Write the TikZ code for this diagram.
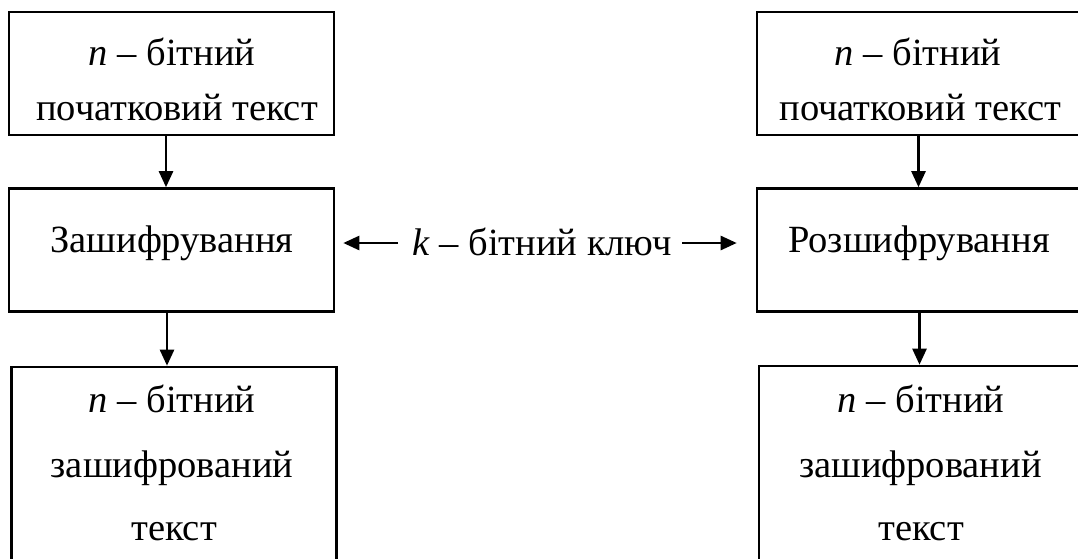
\documentclass[tikz,border=0pt]{standalone}
\usepackage{fontspec}
\setmainfont{Liberation Serif}
\usetikzlibrary{arrows.meta}
\begin{document}
\begin{tikzpicture}[x=1pt,y=-1pt,
  blk/.style={draw, line width=2.6pt, rectangle, inner sep=0pt,
              minimum width=325pt, minimum height=123pt},
  txt/.style={anchor=base, inner sep=0pt, font=\fontsize{38.5}{46}\selectfont},
  arr/.style={line width=2.5pt, -{Triangle[length=16pt,width=14pt]}}]
\useasboundingbox (0,0) rectangle (1078,558);
\clip (0,0) rectangle (1078,558);

% encryption side
\node[blk] (tl) at (171.5,73.5) {};
\node[blk] (ml) at (171.5,250) {};
\node[blk, minimum height=260pt] (bl) at (174,497) {};
% decryption side
\node[blk] (tr) at (919.5,73.5) {};
\node[blk] (mr) at (919.5,250) {};
\node[blk, minimum height=260pt] (br) at (921.5,496) {};

% labels
\node[txt] (tl1) at (172,65)  {\textit{n} – бітний};
\node[txt] (tl2) at (177,120) {початковий текст};
\node[txt] (ml1) at (172,252) {Зашифрування};
\node[txt] (bl1) at (172,412) {\textit{n} – бітний};
\node[txt] (bl2) at (172,477) {зашифрований};
\node[txt] (bl3) at (174,540) {текст};

\node[txt] (tr1) at (918,65)  {\textit{n} – бітний};
\node[txt] (tr2) at (920.5,120) {початковий текст};
\node[txt] (mr1) at (919,252) {Розшифрування};
\node[txt] (br1) at (921,412) {\textit{n} – бітний};
\node[txt] (br2) at (920.5,477) {зашифрований};
\node[txt] (br3) at (921,540) {текст};

\node[txt] (key) at (542,255) {\textit{k} – бітний ключ};

% flow arrows
\draw[arr] ([xshift=-5.5pt]tl.south) -- ([xshift=-5.5pt]ml.north);
\draw[arr] ([xshift=-4.5pt]ml.south) -- ([xshift=-7pt]bl.north);
\draw[arr] ([xshift=-1pt]tr.south) -- ([xshift=-1pt]mr.north);
\draw[arr] (mr.south) -- ([xshift=-2pt]br.north);

% key arrows
\coordinate (kl) at (398,243);
\coordinate (kr) at (682,243);
\draw[arr, shorten >=8pt] (kl) -- (kl -| ml.east);
\draw[arr, shorten >=19pt] (kr) -- (kr -| mr.west);
\end{tikzpicture}
\end{document}
